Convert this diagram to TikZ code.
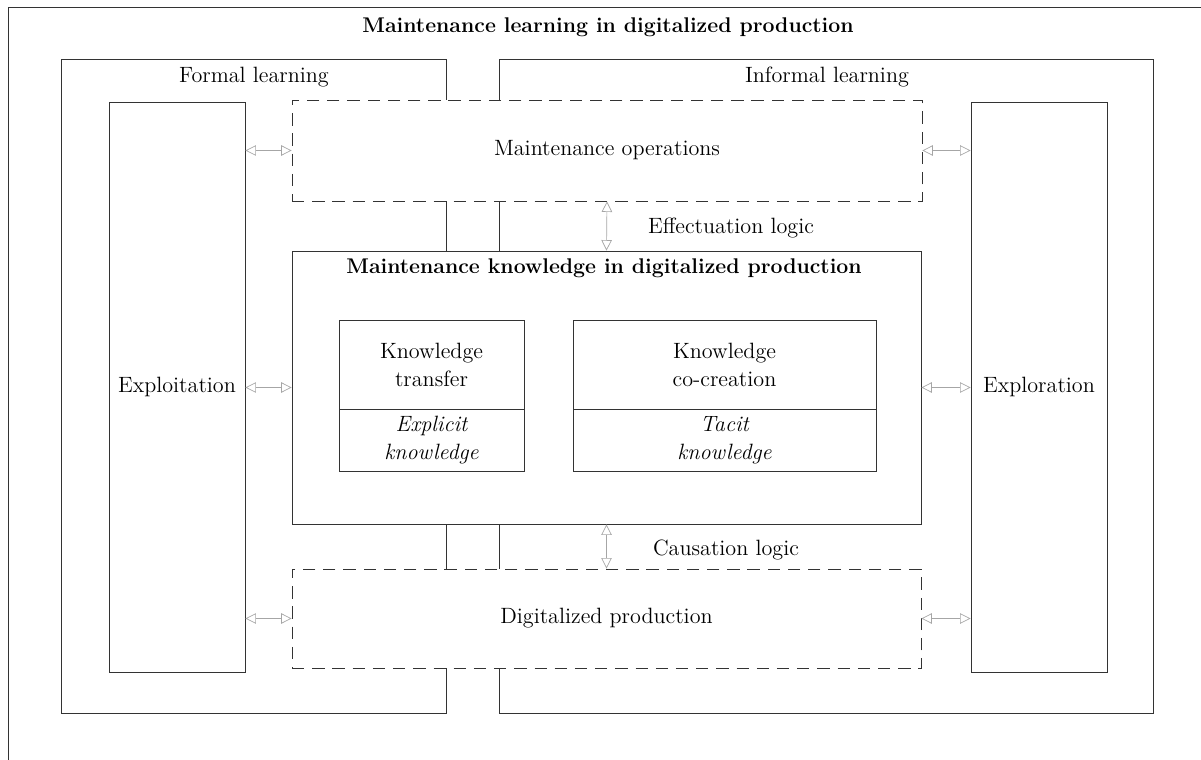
\documentclass[tikz,border=0pt]{standalone}
\usepackage{tikz}
\usetikzlibrary{arrows.meta,shapes}

\begin{document}
\begin{tikzpicture}[x=0.02cm,y=-0.02cm,font=\fontsize{12.6}{16}\selectfont]
                \tikzstyle{frame}=[draw=black!80,line width=0.5pt]
                \tikzstyle{box}=[frame,fill=white,rectangle,align=center,inner sep=0pt]
                \tikzstyle{dashbox}=[box,dash pattern=on 7pt off 4.5pt]
                \tikzstyle{boldtitle}=[font=\fontsize{12.1}{16}\selectfont\bfseries]
                \tikzstyle{dblarrow}=[draw=black!35,line width=0.4pt,{Triangle[open,length=6pt,width=6pt]}-{Triangle[open,length=6pt,width=6pt]}]
                \useasboundingbox (0,0) rectangle (1201,760);

                \draw[frame] (8,7) rectangle (1240,800);
                \draw[frame] (61,59) rectangle (446,713);
                \draw[frame] (499,59) rectangle (1153,713);

                \node[boldtitle] (title) at (608,27) {Maintenance learning in digitalized production};
                \node (formal) at (254,77) {Formal learning};
                \node (informal) at (827,77) {Informal learning};

                \node[box,minimum width=2.72cm,minimum height=11.4cm] (exploit) at (177,387) {Exploitation};
                \node[box,minimum width=2.72cm,minimum height=11.4cm] (explore) at (1039,387) {Exploration};

                \node[dashbox,minimum width=12.6cm,minimum height=2.02cm] (ops) at (607,150.5) {Maintenance operations};
                \node[box,minimum width=12.58cm,minimum height=5.46cm] (know) at (606.5,387.5) {};
                \node[boldtitle] (knowtitle) at (604,268) {Maintenance knowledge in digitalized production};
                \node[dashbox,minimum width=12.58cm,minimum height=1.98cm] (prod) at (606.5,618.5) {Digitalized production};

                \node[box,minimum width=3.7cm,minimum height=1.78cm] (transfer) at (431.5,364.5) {Knowledge\\transfer};
                \node[box,minimum width=3.7cm,minimum height=1.24cm,font=\fontsize{12.6}{16}\selectfont\itshape] (explicit) at (431.5,440) {Explicit\\knowledge};
                \node[box,minimum width=6.06cm,minimum height=1.78cm] (cocreate) at (724.5,364.5) {Knowledge\\co-creation};
                \node[box,minimum width=6.06cm,minimum height=1.24cm,font=\fontsize{12.6}{16}\selectfont\itshape] (tacit) at (724.5,440) {Tacit\\knowledge};

                \draw[dblarrow] (exploit.east |- ops.west) -- (ops.west);
                \draw[dblarrow] (exploit.east |- know.west) -- (know.west);
                \draw[dblarrow] (exploit.east |- prod.west) -- (prod.west);
                \draw[dblarrow] (ops.east) -- (explore.west |- ops.east);
                \draw[dblarrow] (know.east) -- (explore.west |- know.east);
                \draw[dblarrow] (prod.east) -- (explore.west |- prod.east);
                \draw[dblarrow] (ops.south) -- (know.north);
                \draw[dblarrow] (know.south) -- (prod.north);

                \node (effect) at (731,228) {Effectuation logic};
                \node (causal) at (726,550) {Causation logic};
\end{tikzpicture}
\end{document}
